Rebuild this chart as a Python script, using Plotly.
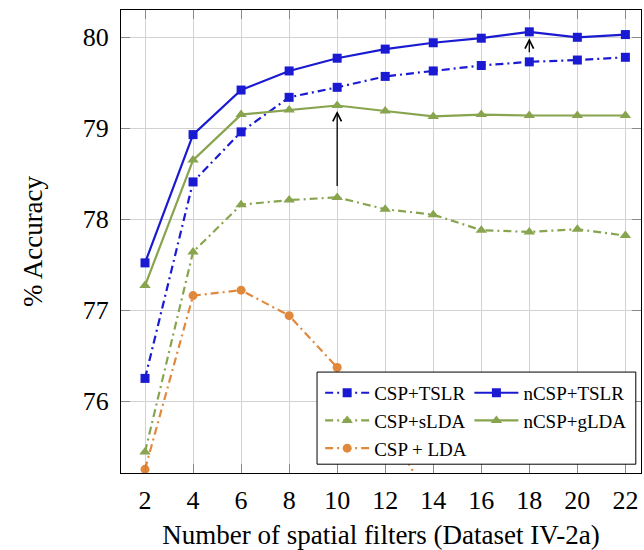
import plotly.graph_objects as go

filters = [2, 4, 6, 8, 10, 12, 14, 16, 18, 20, 22]

csp_tslr = [76.25, 78.41, 78.96, 79.34, 79.45, 79.57, 79.63, 79.69, 79.73, 79.75, 79.78]
ncsp_tslr = [77.52, 78.93, 79.42, 79.63, 79.77, 79.87, 79.94, 79.99, 80.06, 80.00, 80.03]
csp_slda = [75.44, 77.64, 78.16, 78.21, 78.24, 78.11, 78.05, 77.88, 77.86, 77.89, 77.82]
ncsp_glda = [77.27, 78.65, 79.15, 79.20, 79.25, 79.19, 79.13, 79.15, 79.14, 79.14, 79.14]
csp_lda_x = [2, 4, 6, 8, 10, 12, 14]
csp_lda = [75.25, 77.16, 77.22, 76.94, 76.37, 75.75, 74.85]

# arrows: (x, from y, to y)
arrow_x = [10, 18]
arrow_from = [78.35, 79.82]
arrow_to = [79.19, 79.99]

BLUE = "#1a1ad2"
GREEN = "#88a44e"
ORANGE = "#e0893d"
DASHDOT = "8px,4px,2px,4px"
SERIF = "Liberation Serif"

fig = go.Figure()

def add(x, y, name, color, dash, symbol, msize, legend):
    fig.add_trace(go.Scatter(
        x=x, y=y, name=name, mode="lines+markers",
        line=dict(color=color, width=2.2, dash=dash),
        marker=dict(symbol=symbol, size=msize, color=color),
        legend=legend,
    ))

add(filters, csp_tslr, "CSP+TSLR", BLUE, DASHDOT, "square", 9, "legend")
add(filters, csp_slda, "CSP+sLDA", GREEN, DASHDOT, "triangle-up", 10, "legend")
add(csp_lda_x, csp_lda, "CSP + LDA", ORANGE, DASHDOT, "circle", 9, "legend")
add(filters, ncsp_tslr, "nCSP+TSLR", BLUE, "solid", "square", 9, "legend2")
add(filters, ncsp_glda, "nCSP+gLDA", GREEN, "solid", "triangle-up", 10, "legend2")

for xa, y0, y1 in zip(arrow_x, arrow_from, arrow_to):
    fig.add_annotation(x=xa, y=y1, ax=xa, ay=y0, xref="x", yref="y",
                       axref="x", ayref="y", text="", showarrow=True,
                       arrowhead=5, arrowsize=1.3, arrowwidth=1.3,
                       arrowcolor="black", standoff=0)

# legend frame
fig.add_shape(type="rect", xref="paper", yref="paper",
              x0=0.377, x1=0.990, y0=0.019, y1=0.218,
              fillcolor="white", line=dict(color="black", width=1),
              layer="above")

legend_common = dict(font=dict(family=SERIF, size=19, color="black"),
                     bgcolor="rgba(0,0,0,0)", borderwidth=0,
                     xanchor="left", yanchor="top", itemwidth=44,
                     tracegroupgap=0)

fig.update_layout(
    width=644, height=550,
    margin=dict(l=121, r=3, t=10, b=77),
    paper_bgcolor="white", plot_bgcolor="white",
    font=dict(family=SERIF, color="black"),
    legend=dict(x=0.383, y=0.214, **legend_common),
    legend2=dict(x=0.670, y=0.214, **legend_common),
    showlegend=True,
)

axis_common = dict(
    showline=True, linecolor="black", linewidth=1, mirror="ticks",
    ticks="inside", ticklen=9, tickcolor="#8a8a8a", tickwidth=1,
    showgrid=True, gridcolor="#d2d2d2", gridwidth=1, zeroline=False,
    tickfont=dict(family=SERIF, size=26, color="black"),
)

fig.update_xaxes(range=[1.0, 22.65], tickmode="array", tickvals=filters,
                 title=dict(text="Number of spatial filters (Dataset IV-2a)",
                            font=dict(family=SERIF, size=27, color="black"),
                            standoff=12),
                 ticklabelstandoff=4, **axis_common)
fig.update_yaxes(range=[75.21, 80.30], tickmode="array",
                 tickvals=[76, 77, 78, 79, 80],
                 title=dict(text="% Accuracy",
                            font=dict(family=SERIF, size=27, color="black"),
                            standoff=32),
                 ticklabelstandoff=6, **axis_common)

fig.write_html("out.html")
